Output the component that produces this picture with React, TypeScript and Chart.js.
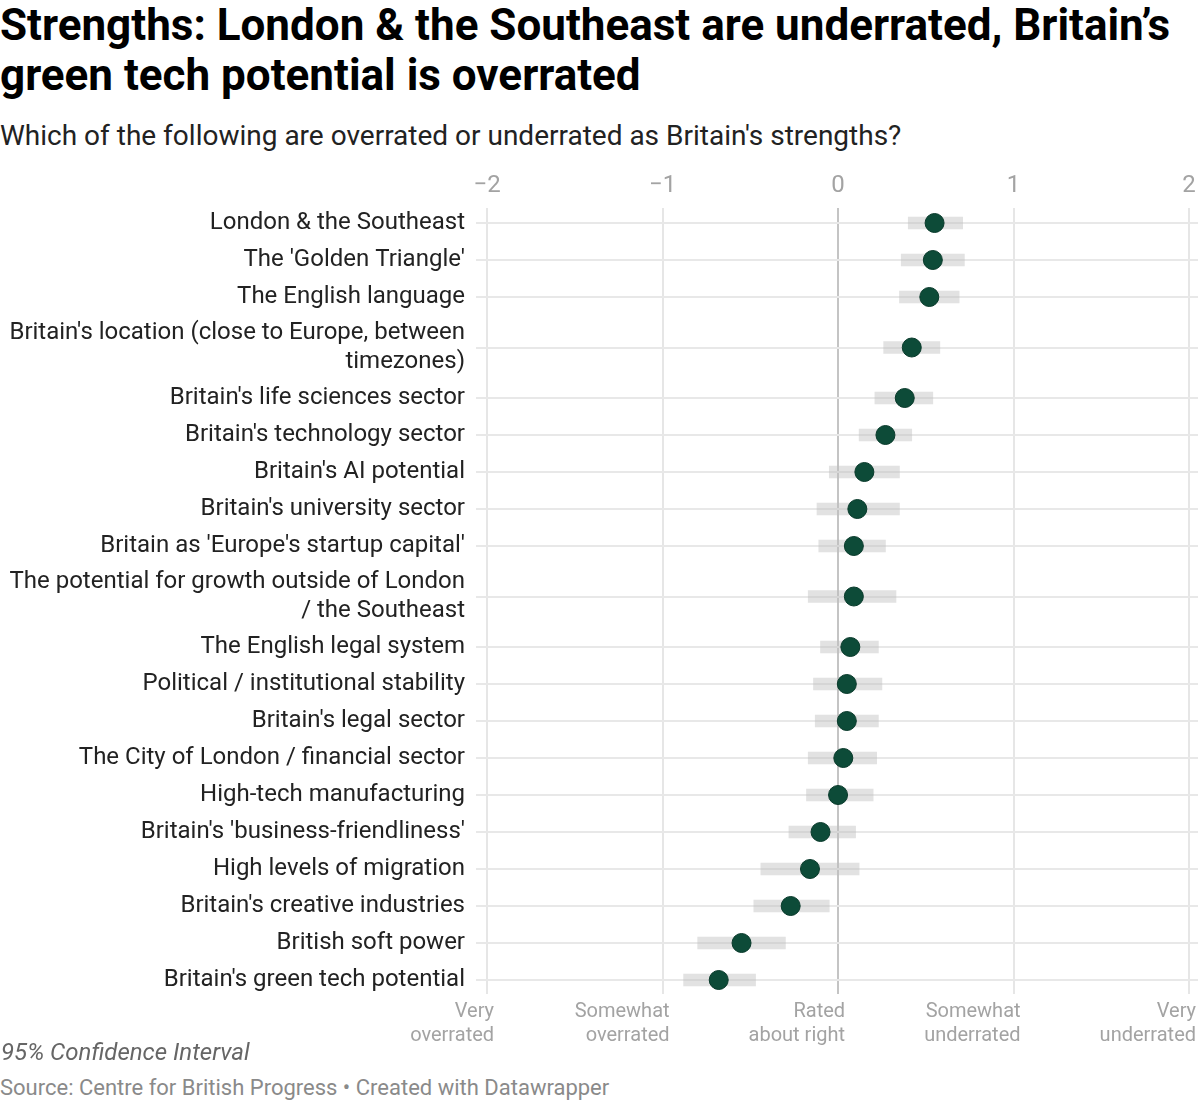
import React, { useEffect, useRef } from "react";
import { Chart, registerables } from "chart.js";

Chart.register(...registerables);

const CATEGORIES: string[] = [
  "London & the Southeast",
  "The 'Golden Triangle'",
  "The English language",
  "Britain's location (close to Europe, between\ntimezones)",
  "Britain's life sciences sector",
  "Britain's technology sector",
  "Britain's AI potential",
  "Britain's university sector",
  "Britain as 'Europe's startup capital'",
  "The potential for growth outside of London\n/ the Southeast",
  "The English legal system",
  "Political / institutional stability",
  "Britain's legal sector",
  "The City of London / financial sector",
  "High-tech manufacturing",
  "Britain's 'business-friendliness'",
  "High levels of migration",
  "Britain's creative industries",
  "British soft power",
  "Britain's green tech potential",
];

const MEAN: number[] = [
  0.55, 0.54, 0.52, 0.42, 0.38, 0.27, 0.15, 0.11, 0.09, 0.09,
  0.07, 0.05, 0.05, 0.03, 0.0, -0.1, -0.16, -0.27, -0.55, -0.68,
];

const CI_LOW: number[] = [
  0.4, 0.36, 0.35, 0.26, 0.21, 0.12, -0.05, -0.12, -0.11, -0.17,
  -0.1, -0.14, -0.13, -0.17, -0.18, -0.28, -0.44, -0.48, -0.8, -0.88,
];

const CI_HIGH: number[] = [
  0.71, 0.72, 0.69, 0.58, 0.54, 0.42, 0.35, 0.35, 0.27, 0.33,
  0.23, 0.25, 0.23, 0.22, 0.2, 0.1, 0.12, -0.05, -0.3, -0.47,
];

const X_TICKS: number[] = [-2, -1, 0, 1, 2];

const BOTTOM_LABELS: string[][] = [
  ["Very", "overrated"],
  ["Somewhat", "overrated"],
  ["Rated", "about right"],
  ["Somewhat", "underrated"],
  ["Very", "underrated"],
];

const TITLE = "Strengths: London & the Southeast are underrated, Britain\u2019s green tech potential is overrated";
const SUBTITLE = "Which of the following are overrated or underrated as Britain's strengths?";
const NOTE = "95% Confidence Interval";
const SOURCE = "Source: Centre for British Progress \u2022 Created with Datawrapper";

// layout helpers (row height depends on number of label lines)
const ROW_SINGLE = 37;
const ROW_EXTRA_LINE = 27;
const labelLines = (s: string) => s.split("\n");
const rowHeights = CATEGORIES.map((c) => ROW_SINGLE + (labelLines(c).length - 1) * ROW_EXTRA_LINE);
const POS: number[] = [];
rowHeights.forEach((h, i) => {
  if (i === 0) POS.push(0);
  else POS.push(POS[i - 1] + (rowHeights[i - 1] + h) / 2);
});

const FONT = "Roboto, 'Noto Sans', sans-serif";

const bottomLabelsPlugin = {
  id: "bottomLabels",
  afterDraw(chart: any) {
    const ctx = chart.ctx;
    const xs = chart.scales.x;
    const bottom = chart.chartArea.bottom;
    ctx.save();
    ctx.font = `20px ${FONT}`;
    ctx.fillStyle = "#a3a3a3";
    ctx.textAlign = "right";
    ctx.textBaseline = "middle";
    X_TICKS.forEach((v, i) => {
      const px = xs.getPixelForValue(v) + 7;
      BOTTOM_LABELS[i].forEach((line, j) => {
        ctx.fillText(line, px, bottom + 18 + j * 24);
      });
    });
    ctx.restore();
  },
};

export default function App() {
  const canvasRef = useRef<HTMLCanvasElement | null>(null);

  useEffect(() => {
    document.body.style.margin = "0";
    const canvas = canvasRef.current;
    if (!canvas) return;
    const chart = new Chart(canvas, {
      type: "bar",
      data: {
        datasets: [
          {
            type: "scatter",
            data: MEAN.map((m, i) => ({ x: m, y: POS[i] })),
            backgroundColor: "#0d4b38",
            borderColor: "#093a2b",
            borderWidth: 1,
            pointRadius: 9.5,
            clip: false,
            order: 0,
          } as any,
          {
            type: "bar",
            indexAxis: "y",
            data: CI_LOW.map((lo, i) => ({ x: [lo, CI_HIGH[i]], y: POS[i] })),
            backgroundColor: "rgba(190,190,190,0.45)",
            borderWidth: 0,
            barThickness: 12,
            order: 1,
          } as any,
        ],
      },
      options: {
        animation: false,
        responsive: false,
        devicePixelRatio: 1,
        layout: { autoPadding: false, padding: { top: 0, left: 0, right: 2, bottom: 56 } },
        plugins: { legend: { display: false }, tooltip: { enabled: false } },
        scales: {
          x: {
            type: "linear",
            position: "top",
            offset: false,
            min: -2.063,
            max: 2.051,
            afterBuildTicks: (scale: any) => {
              scale.ticks = X_TICKS.map((v) => ({ value: v }));
            },
            afterFit: (scale: any) => {
              scale.height = 48;
            },
            grid: {
              offset: false,
              drawTicks: false,
              lineWidth: 2,
              color: (c: any) => (c.tick && c.tick.value === 0 ? "#c4c4c4" : "#e6e6e6"),
            },
            border: { display: false },
            ticks: {
              padding: 0,
              color: "#a3a3a3",
              font: { family: FONT, size: 24, lineHeight: 1.83 },
              callback: (v: any) => (Number(v) < 0 ? "\u2212" + Math.abs(Number(v)) : String(v)),
            },
          },
          y: {
            type: "linear",
            reverse: true,
            offset: false,
            min: -15,
            max: POS[POS.length - 1] + 14,
            afterBuildTicks: (scale: any) => {
              scale.ticks = POS.map((v) => ({ value: v }));
            },
            afterFit: (scale: any) => {
              scale.width = 476;
            },
            grid: { offset: false, drawTicks: false, lineWidth: 2, color: "#e8e8e8" },
            border: { display: false },
            ticks: {
              autoSkip: false,
              padding: 11,
              color: "#222222",
              font: { family: FONT, size: 24, lineHeight: 1.22 },
              callback: (_v: any, i: number) => {
                const lines = labelLines(CATEGORIES[i]);
                return lines.length > 1 ? lines : lines[0];
              },
            },
          },
        },
      } as any,
      plugins: [bottomLabelsPlugin],
    });
    return () => chart.destroy();
  }, []);

  return (
    <div style={{ position: "relative", width: 1200, height: 1102, fontFamily: FONT, background: "#fff" }}>
      <div
        style={{
          position: "absolute",
          left: 0,
          top: 0,
          width: 1195,
          fontSize: 44,
          fontWeight: 700,
          lineHeight: "50px",
          color: "#000",
        }}
      >
        {TITLE}
      </div>
      <div
        style={{
          position: "absolute",
          left: 0,
          top: 120,
          fontSize: 28,
          lineHeight: "32px",
          color: "#222",
        }}
      >
        {SUBTITLE}
      </div>
      <canvas
        ref={canvasRef}
        width={1200}
        height={890}
        style={{ position: "absolute", left: 0, top: 160, width: 1200, height: 890 }}
      />
      <div
        style={{
          position: "absolute",
          left: 1,
          top: 1037,
          fontSize: 24,
          fontStyle: "italic",
          lineHeight: "30px",
          color: "#666",
        }}
      >
        {NOTE}
      </div>
      <div
        style={{
          position: "absolute",
          left: 0,
          top: 1073,
          fontSize: 22,
          lineHeight: "30px",
          color: "#8a8a8a",
        }}
      >
        {SOURCE}
      </div>
    </div>
  );
}
